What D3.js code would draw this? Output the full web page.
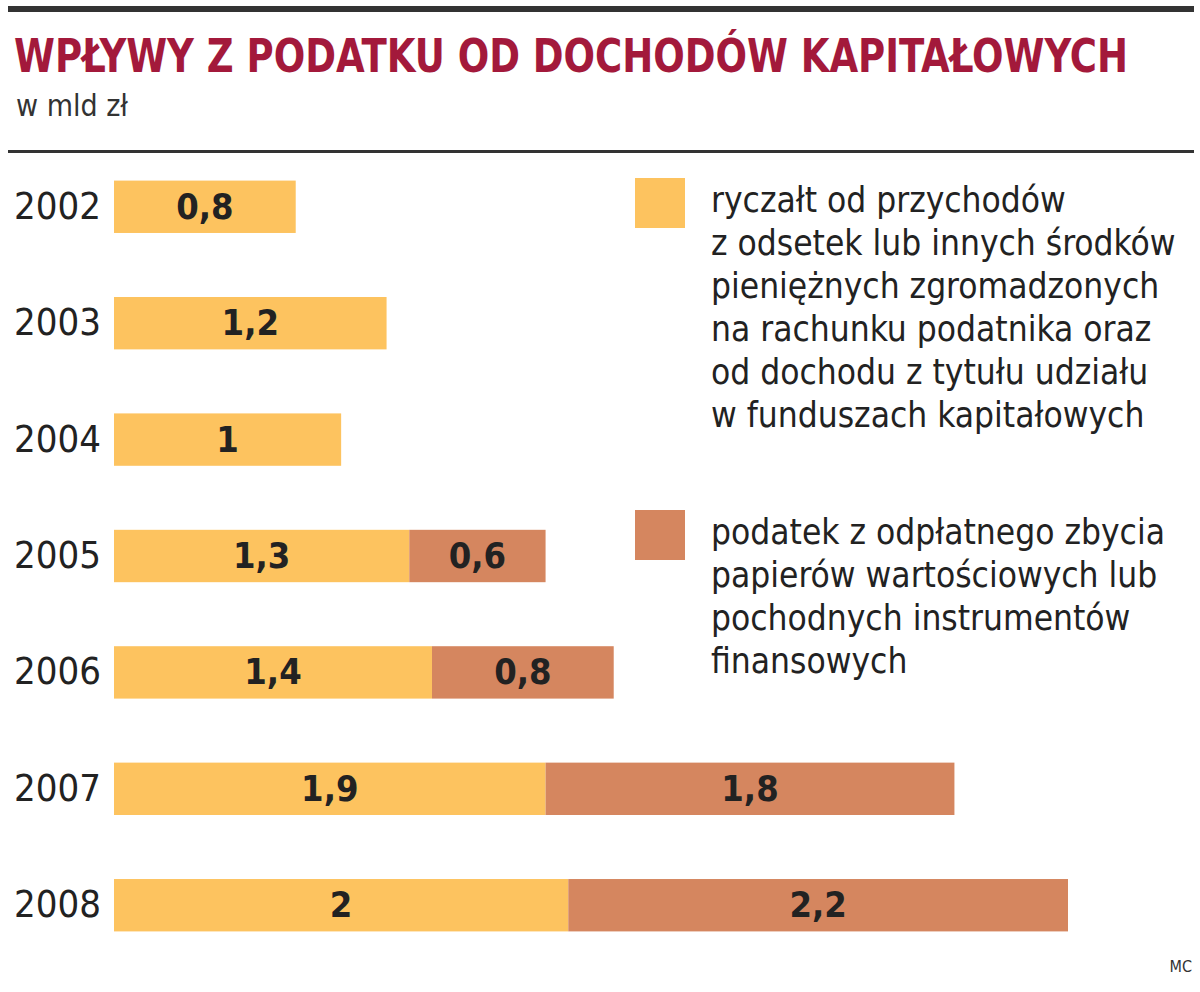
<!DOCTYPE html>
<html><head><meta charset="utf-8">
<script src="https://cdn.jsdelivr.net/npm/d3@7"></script>
<style>body{margin:0;background:#fff}svg{font-family:"Liberation Sans Narrow","DejaVu Sans Condensed",sans-serif}</style>
</head><body><div id="chart"></div>
<script>
// data
const years = ["2002","2003","2004","2005","2006","2007","2008"];
const ryczalt = [0.8,1.2,1,1.3,1.4,1.9,2];
const zbycie = [null,null,null,0.6,0.8,1.8,2.2];
const fmt = v => String(v).replace(".", ",");
const legend1 = ["ryczałt od przychodów","z odsetek lub innych środków","pieniężnych zgromadzonych","na rachunku podatnika oraz","od dochodu z tytułu udziału","w funduszach kapitałowych"];
const legend2 = ["podatek z odpłatnego zbycia","papierów wartościowych lub","pochodnych instrumentów","finansowych"];
const cOrange = "#fdc35f", cBrown = "#d5865f";

const svg = d3.select("#chart").append("svg").attr("width",1200).attr("height",992);

svg.append("rect").attr("x",8).attr("y",6).attr("width",1186).attr("height",6).attr("fill","#333");
svg.append("text").attr("x",14).attr("y",72).attr("font-size",46).attr("font-weight","bold")
  .attr("fill","#a3193b").attr("textLength",1114).attr("lengthAdjust","spacingAndGlyphs")
  .text("WPŁYWY Z PODATKU OD DOCHODÓW KAPITAŁOWYCH");
svg.append("text").attr("x",16).attr("y",116).attr("font-size",30).attr("fill","#333").text("w mld zł");
svg.append("rect").attr("x",8).attr("y",150).attr("width",1186).attr("height",3).attr("fill","#333");

var x = d3.scaleLinear().domain([0,4.2]).range([114,1068]);
var y = d3.scaleBand().domain(years).range([148,964]).paddingInner(0.55).paddingOuter(0.28);

var g = svg.selectAll(".row").data(years).enter().append("g");
g.append("text").attr("x",14).attr("y",d=>y(d)+y.bandwidth()/2+12).attr("font-size",38).attr("fill","#222").text(d=>d);
g.append("rect").attr("x",x(0)).attr("y",d=>y(d)).attr("height",y.bandwidth())
  .attr("width",(d,i)=>x(ryczalt[i])-x(0)).attr("fill",cOrange);
g.append("text").attr("x",(d,i)=>(x(0)+x(ryczalt[i]))/2).attr("y",d=>y(d)+y.bandwidth()/2+12)
  .attr("text-anchor","middle").attr("font-size",36).attr("font-weight","bold").attr("fill","#222").text((d,i)=>fmt(ryczalt[i]));
g.filter((d,i)=>zbycie[i]!=null).each(function(d){
  var i = years.indexOf(d), s = d3.select(this);
  s.append("rect").attr("x",x(ryczalt[i])).attr("y",y(d)).attr("height",y.bandwidth())
    .attr("width",x(ryczalt[i]+zbycie[i])-x(ryczalt[i])).attr("fill",cBrown);
  s.append("text").attr("x",(x(ryczalt[i])+x(ryczalt[i]+zbycie[i]))/2).attr("y",y(d)+y.bandwidth()/2+12)
    .attr("text-anchor","middle").attr("font-size",36).attr("font-weight","bold").attr("fill","#222").text(fmt(zbycie[i]));
});

function legend(top, color, lines){
  svg.append("rect").attr("x",635).attr("y",top).attr("width",50).attr("height",50).attr("fill",color);
  svg.selectAll(null).data(lines).enter().append("text").attr("x",711).attr("y",(d,i)=>top+34+i*43)
    .attr("font-size",35).attr("fill","#222").text(d=>d);
}
legend(178,cOrange,legend1);
legend(510,cBrown,legend2);
svg.append("text").attr("x",1192).attr("y",972).attr("text-anchor","end").attr("font-size",16).attr("fill","#333").text("MC");
</script></body></html>
